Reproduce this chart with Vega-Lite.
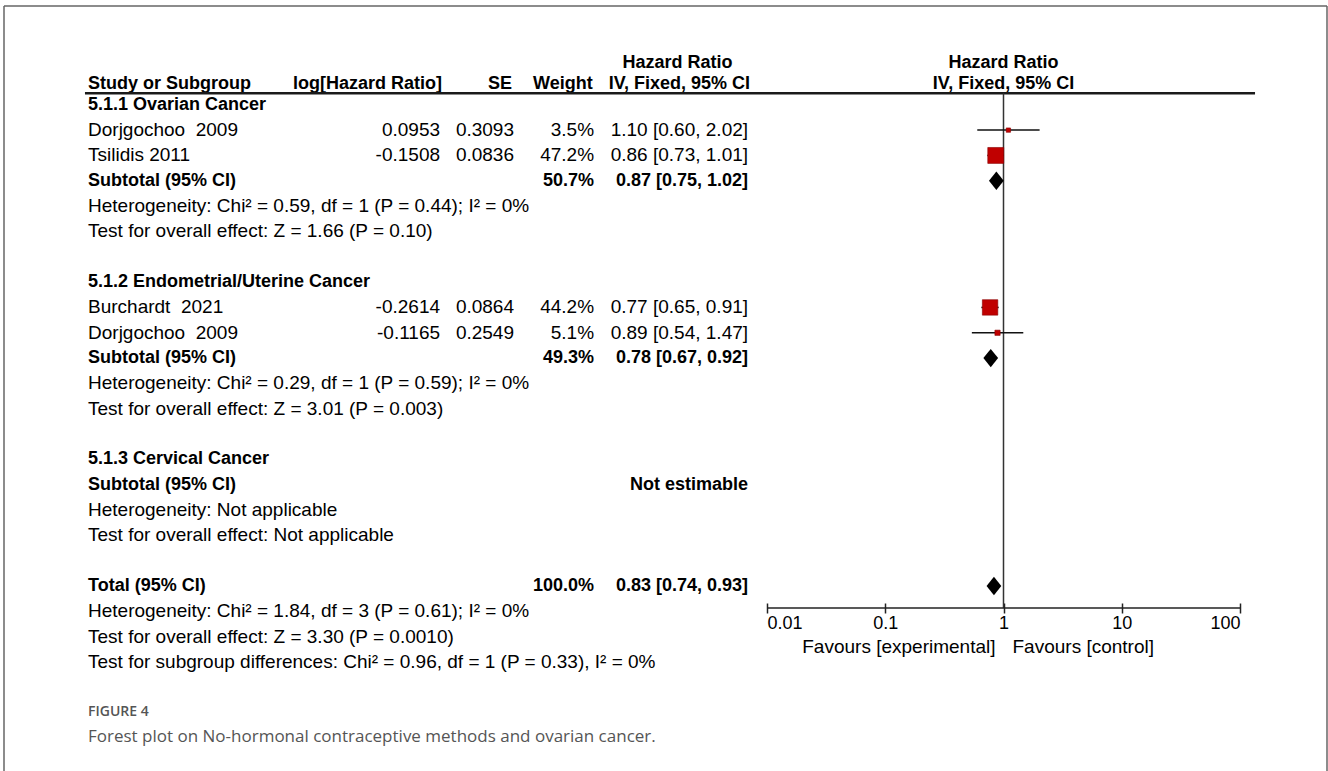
{
  "$schema": "https://vega.github.io/schema/vega-lite/v6.json",
  "width": 1323,
  "height": 765,
  "autosize": {"type": "none"},
  "padding": {"left": 4, "top": 6, "right": 1, "bottom": 0},
  "background": "white",
  "config": {"view": {"stroke": null}},
  "datasets": {
    "rows": [
      {"row": 1, "label": "5.1.1 Ovarian Cancer", "kind": "group"},
      {"row": 2, "label": "Dorjgochoo\u00a0 2009", "loghr": "0.0953", "se": "0.3093", "weight": "3.5%", "ci": "1.10 [0.60, 2.02]", "kind": "study", "hr": 1.10, "lo": 0.60, "hi": 2.02, "w": 3.5},
      {"row": 3, "label": "Tsilidis 2011", "loghr": "-0.1508", "se": "0.0836", "weight": "47.2%", "ci": "0.86 [0.73, 1.01]", "kind": "study", "hr": 0.86, "lo": 0.73, "hi": 1.01, "w": 47.2},
      {"row": 4, "label": "Subtotal (95% CI)", "weight": "50.7%", "ci": "0.87 [0.75, 1.02]", "kind": "subtotal", "hr": 0.87, "lo": 0.75, "hi": 1.02},
      {"row": 5, "label": "Heterogeneity: Chi² = 0.59, df = 1 (P = 0.44); I² = 0%", "kind": "note"},
      {"row": 6, "label": "Test for overall effect: Z = 1.66 (P = 0.10)", "kind": "note"},
      {"row": 8, "label": "5.1.2 Endometrial/Uterine Cancer", "kind": "group"},
      {"row": 9, "label": "Burchardt\u00a0 2021", "loghr": "-0.2614", "se": "0.0864", "weight": "44.2%", "ci": "0.77 [0.65, 0.91]", "kind": "study", "hr": 0.77, "lo": 0.65, "hi": 0.91, "w": 44.2},
      {"row": 10, "label": "Dorjgochoo\u00a0 2009", "loghr": "-0.1165", "se": "0.2549", "weight": "5.1%", "ci": "0.89 [0.54, 1.47]", "kind": "study", "hr": 0.89, "lo": 0.54, "hi": 1.47, "w": 5.1},
      {"row": 11, "label": "Subtotal (95% CI)", "weight": "49.3%", "ci": "0.78 [0.67, 0.92]", "kind": "subtotal", "hr": 0.78, "lo": 0.67, "hi": 0.92},
      {"row": 12, "label": "Heterogeneity: Chi² = 0.29, df = 1 (P = 0.59); I² = 0%", "kind": "note"},
      {"row": 13, "label": "Test for overall effect: Z = 3.01 (P = 0.003)", "kind": "note"},
      {"row": 15, "label": "5.1.3 Cervical Cancer", "kind": "group"},
      {"row": 16, "label": "Subtotal (95% CI)", "ci": "Not estimable", "kind": "subtotal"},
      {"row": 17, "label": "Heterogeneity: Not applicable", "kind": "note"},
      {"row": 18, "label": "Test for overall effect: Not applicable", "kind": "note"},
      {"row": 20, "label": "Total (95% CI)", "weight": "100.0%", "ci": "0.83 [0.74, 0.93]", "kind": "total", "hr": 0.83, "lo": 0.74, "hi": 0.93},
      {"row": 21, "label": "Heterogeneity: Chi² = 1.84, df = 3 (P = 0.61); I² = 0%", "kind": "note"},
      {"row": 22, "label": "Test for overall effect: Z = 3.30 (P = 0.0010)", "kind": "note"},
      {"row": 23, "label": "Test for subgroup differences: Chi² = 0.96, df = 1 (P = 0.33), I² = 0%", "kind": "note"}
    ]
  },
  "resolve": {"scale": {"x": "independent"}},
  "layer": [
    {
      "data": {"name": "rows"},
      "layer": [
        {
          "mark": {"type": "text", "align": "left", "baseline": "middle", "font": "Liberation Sans", "fontSize": 19, "color": "#000"},
          "transform": [{"filter": {"field": "kind", "oneOf": ["study", "note"]}}],
          "encoding": {
            "x": {"datum": 6.35, "type": "quantitative", "scale": {"domain": [0, 100], "nice": false, "zero": false}, "axis": null},
            "y": {"field": "row", "type": "quantitative", "scale": {"domain": [-2.9, 27.3], "reverse": true, "nice": false, "zero": false}, "axis": null},
            "text": {"field": "label"}
          }
        },
        {
          "mark": {"type": "text", "align": "left", "baseline": "middle", "font": "Liberation Sans", "fontSize": 18, "fontWeight": "bold", "color": "#000"},
          "transform": [{"filter": {"field": "kind", "oneOf": ["group", "subtotal", "total"]}}],
          "encoding": {
            "x": {"datum": 6.35, "type": "quantitative"},
            "y": {"field": "row", "type": "quantitative"},
            "text": {"field": "label"}
          }
        },
        {
          "mark": {"type": "text", "align": "right", "baseline": "middle", "font": "Liberation Sans", "fontSize": 19, "color": "#000"},
          "transform": [{"filter": {"field": "kind", "equal": "study"}}],
          "encoding": {
            "x": {"datum": 32.96, "type": "quantitative"},
            "y": {"field": "row", "type": "quantitative"},
            "text": {"field": "loghr"}
          }
        },
        {
          "mark": {"type": "text", "align": "right", "baseline": "middle", "font": "Liberation Sans", "fontSize": 19, "color": "#000"},
          "transform": [{"filter": {"field": "kind", "equal": "study"}}],
          "encoding": {
            "x": {"datum": 38.55, "type": "quantitative"},
            "y": {"field": "row", "type": "quantitative"},
            "text": {"field": "se"}
          }
        },
        {
          "mark": {"type": "text", "align": "right", "baseline": "middle", "font": "Liberation Sans", "fontSize": 19, "color": "#000"},
          "transform": [{"filter": {"field": "kind", "equal": "study"}}],
          "encoding": {
            "x": {"datum": 44.6, "type": "quantitative"},
            "y": {"field": "row", "type": "quantitative"},
            "text": {"field": "weight"}
          }
        },
        {
          "mark": {"type": "text", "align": "right", "baseline": "middle", "font": "Liberation Sans", "fontSize": 19, "color": "#000"},
          "transform": [{"filter": {"field": "kind", "equal": "study"}}],
          "encoding": {
            "x": {"datum": 56.24, "type": "quantitative"},
            "y": {"field": "row", "type": "quantitative"},
            "text": {"field": "ci"}
          }
        },
        {
          "mark": {"type": "text", "align": "right", "baseline": "middle", "font": "Liberation Sans", "fontSize": 18, "fontWeight": "bold", "color": "#000"},
          "transform": [{"filter": {"field": "kind", "oneOf": ["subtotal", "total"]}}, {"filter": "isValid(datum.weight)"}],
          "encoding": {
            "x": {"datum": 44.6, "type": "quantitative"},
            "y": {"field": "row", "type": "quantitative"},
            "text": {"field": "weight"}
          }
        },
        {
          "mark": {"type": "text", "align": "right", "baseline": "middle", "font": "Liberation Sans", "fontSize": 18, "fontWeight": "bold", "color": "#000"},
          "transform": [{"filter": {"field": "kind", "oneOf": ["subtotal", "total"]}}],
          "encoding": {
            "x": {"datum": 56.24, "type": "quantitative"},
            "y": {"field": "row", "type": "quantitative"},
            "text": {"field": "ci"}
          }
        },
        {
          "data": {"values": [{"h": "Study or Subgroup"}]},
          "mark": {"type": "text", "align": "left", "baseline": "middle", "font": "Liberation Sans", "fontSize": 18, "fontWeight": "bold", "color": "#000"},
          "encoding": {"x": {"datum": 6.35, "type": "quantitative"}, "y": {"datum": 0.18, "type": "quantitative"}, "text": {"field": "h"}}
        },
        {
          "data": {"values": [{"h": "log[Hazard Ratio]"}]},
          "mark": {"type": "text", "align": "right", "baseline": "middle", "font": "Liberation Sans", "fontSize": 18, "fontWeight": "bold", "color": "#000"},
          "encoding": {"x": {"datum": 33.1, "type": "quantitative"}, "y": {"datum": 0.18, "type": "quantitative"}, "text": {"field": "h"}}
        },
        {
          "data": {"values": [{"h": "SE"}]},
          "mark": {"type": "text", "align": "right", "baseline": "middle", "font": "Liberation Sans", "fontSize": 18, "fontWeight": "bold", "color": "#000"},
          "encoding": {"x": {"datum": 38.4, "type": "quantitative"}, "y": {"datum": 0.18, "type": "quantitative"}, "text": {"field": "h"}}
        },
        {
          "data": {"values": [{"h": "Weight"}]},
          "mark": {"type": "text", "align": "right", "baseline": "middle", "font": "Liberation Sans", "fontSize": 18, "fontWeight": "bold", "color": "#000"},
          "encoding": {"x": {"datum": 44.5, "type": "quantitative"}, "y": {"datum": 0.18, "type": "quantitative"}, "text": {"field": "h"}}
        },
        {
          "data": {"values": [{"h": "IV, Fixed, 95% CI"}]},
          "mark": {"type": "text", "align": "right", "baseline": "middle", "font": "Liberation Sans", "fontSize": 18, "fontWeight": "bold", "color": "#000"},
          "encoding": {"x": {"datum": 56.39, "type": "quantitative"}, "y": {"datum": 0.18, "type": "quantitative"}, "text": {"field": "h"}}
        },
        {
          "data": {"values": [{"h": "Hazard Ratio"}]},
          "mark": {"type": "text", "align": "center", "baseline": "middle", "font": "Liberation Sans", "fontSize": 18, "fontWeight": "bold", "color": "#000"},
          "encoding": {"x": {"datum": 50.9, "type": "quantitative"}, "y": {"datum": -0.65, "type": "quantitative"}, "text": {"field": "h"}}
        },
        {
          "data": {"values": [{"h": "header rule"}]},
          "mark": {"type": "rule", "color": "#1a1a1a", "strokeWidth": 2.5},
          "encoding": {"x": {"datum": 6.12, "type": "quantitative"}, "x2": {"datum": 94.56}, "y": {"datum": 0.54, "type": "quantitative"}}
        },
        {
          "data": {"values": [{"h": "frame"}]},
          "mark": {"type": "rule", "color": "#666666", "strokeWidth": 1.5},
          "encoding": {"x": {"datum": 0, "type": "quantitative"}, "x2": {"datum": 100}, "y": {"datum": -2.9, "type": "quantitative"}}
        },
        {
          "data": {"values": [{"h": "frame"}]},
          "mark": {"type": "rule", "color": "#666666", "strokeWidth": 1.5},
          "encoding": {"x": {"datum": 0, "type": "quantitative"}, "y": {"datum": -2.9, "type": "quantitative"}, "y2": {"datum": 27.3}}
        },
        {
          "data": {"values": [{"h": "frame"}]},
          "mark": {"type": "rule", "color": "#666666", "strokeWidth": 1.5},
          "encoding": {"x": {"datum": 100, "type": "quantitative"}, "y": {"datum": -2.9, "type": "quantitative"}, "y2": {"datum": 27.3}}
        },
        {
          "data": {"values": [{"h": "FIGURE 4"}]},
          "mark": {"type": "text", "align": "left", "baseline": "middle", "font": "Open Sans", "fontSize": 14, "fontWeight": 600, "color": "#555555"},
          "encoding": {"x": {"datum": 6.35, "type": "quantitative"}, "y": {"datum": 24.97, "type": "quantitative"}, "text": {"field": "h"}}
        },
        {
          "data": {"values": [{"h": "Forest plot on No-hormonal contraceptive methods and ovarian cancer."}]},
          "mark": {"type": "text", "align": "left", "baseline": "middle", "font": "Open Sans", "fontSize": 17, "color": "#555555"},
          "encoding": {"x": {"datum": 6.35, "type": "quantitative"}, "y": {"datum": 25.96, "type": "quantitative"}, "text": {"field": "h"}}
        }
      ]
    },
    {
      "data": {"name": "rows"},
      "layer": [
        {
          "data": {"values": [{"v": 1}]},
          "mark": {"type": "rule", "color": "#333", "strokeWidth": 1.5},
          "encoding": {
            "x": {"field": "v", "type": "quantitative", "scale": {"type": "log", "domain": [0.01, 100], "range": [763, 1236]},
              "axis": {"orient": "bottom", "offset": -168, "values": [0.01, 0.1, 1, 10, 100], "format": "~g", "domain": false, "ticks": true, "tickSize": 10, "tickWidth": 1.5, "tickColor": "#222", "labelFontSize": 18, "labelFont": "Liberation Sans", "labelColor": "#000", "labelPadding": 1, "labelFlush": true, "grid": false, "title": null}},
            "y": {"datum": 0.54, "type": "quantitative"},
            "y2": {"datum": 20.87}
          }
        },
        {
          "data": {"values": [{"a": 0.01, "b": 100}]},
          "mark": {"type": "rule", "color": "#222", "strokeWidth": 1.5},
          "encoding": {
            "x": {"field": "a", "type": "quantitative"},
            "x2": {"field": "b"},
            "y": {"datum": 20.87, "type": "quantitative"}
          }
        },
        {
          "transform": [{"filter": {"field": "kind", "equal": "study"}}],
          "mark": {"type": "rule", "color": "#111", "strokeWidth": 1.5},
          "encoding": {
            "x": {"field": "lo", "type": "quantitative"},
            "x2": {"field": "hi"},
            "y": {"field": "row", "type": "quantitative"}
          }
        },
        {
          "transform": [{"filter": {"field": "kind", "equal": "study"}}],
          "mark": {"type": "point", "shape": "square", "filled": true, "color": "#c00000", "stroke": "#8a0000", "strokeWidth": 0.6, "opacity": 1},
          "encoding": {
            "x": {"field": "hr", "type": "quantitative"},
            "y": {"field": "row", "type": "quantitative"},
            "size": {"field": "w", "type": "quantitative", "scale": {"domain": [0, 100], "range": [0, 540], "zero": true}, "legend": null}
          }
        },
        {
          "transform": [{"filter": {"field": "kind", "oneOf": ["subtotal", "total"]}}, {"filter": "isValid(datum.hr)"}],
          "mark": {"type": "point", "shape": "M0,-1L0.8,0L0,1L-0.8,0Z", "filled": true, "color": "#000", "size": 340, "opacity": 1},
          "encoding": {
            "x": {"field": "hr", "type": "quantitative"},
            "y": {"field": "row", "type": "quantitative"}
          }
        },
        {
          "data": {"values": [{"v": 1, "h": "Hazard Ratio"}]},
          "mark": {"type": "text", "align": "center", "baseline": "middle", "font": "Liberation Sans", "fontSize": 18, "fontWeight": "bold", "color": "#000"},
          "encoding": {"x": {"field": "v", "type": "quantitative"}, "y": {"datum": -0.65, "type": "quantitative"}, "text": {"field": "h"}}
        },
        {
          "data": {"values": [{"v": 1, "h": "IV, Fixed, 95% CI"}]},
          "mark": {"type": "text", "align": "center", "baseline": "middle", "font": "Liberation Sans", "fontSize": 18, "fontWeight": "bold", "color": "#000"},
          "encoding": {"x": {"field": "v", "type": "quantitative"}, "y": {"datum": 0.18, "type": "quantitative"}, "text": {"field": "h"}}
        },
        {
          "data": {"values": [{"v": 1, "h": "Favours [experimental]"}]},
          "mark": {"type": "text", "align": "right", "baseline": "middle", "dx": -8, "font": "Liberation Sans", "fontSize": 19, "color": "#000"},
          "encoding": {"x": {"field": "v", "type": "quantitative"}, "y": {"datum": 22.4, "type": "quantitative"}, "text": {"field": "h"}}
        },
        {
          "data": {"values": [{"v": 1, "h": "Favours [control]"}]},
          "mark": {"type": "text", "align": "left", "baseline": "middle", "dx": 9, "font": "Liberation Sans", "fontSize": 19, "color": "#000"},
          "encoding": {"x": {"field": "v", "type": "quantitative"}, "y": {"datum": 22.4, "type": "quantitative"}, "text": {"field": "h"}}
        }
      ]
    }
  ]
}
